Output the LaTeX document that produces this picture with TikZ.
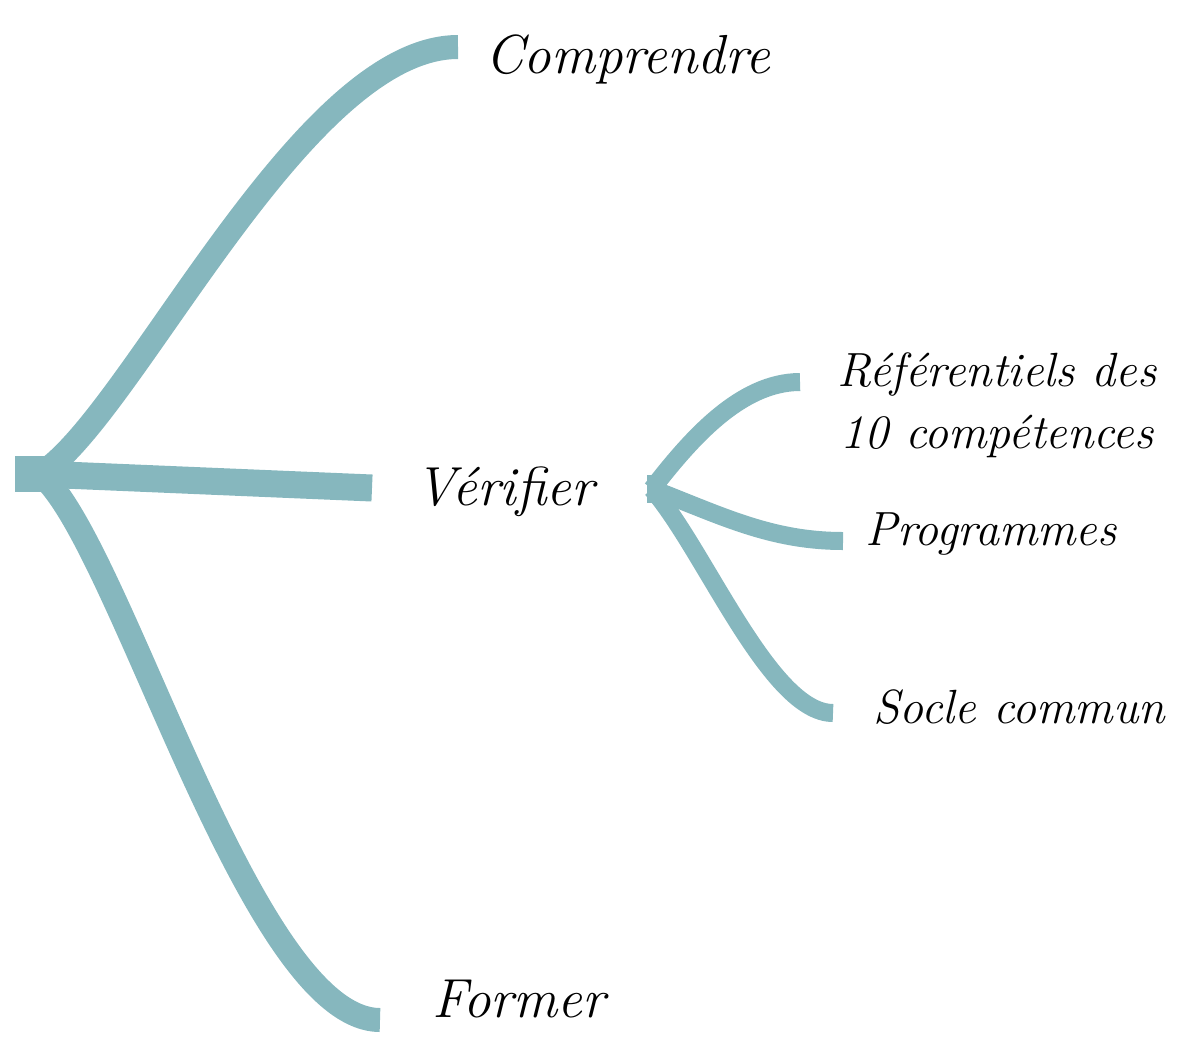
\documentclass[tikz,border=0pt]{standalone}
\usepackage{fontspec}
\usepackage{xcolor}
\definecolor{branch}{RGB}{134,183,190}
\tikzset{
  mainbranch/.style={draw=branch, line width=24pt},
  subbranch/.style={draw=branch, line width=18pt},
  topic/.style={anchor=base west, inner sep=0pt, font=\fontsize{55}{62}\selectfont\itshape},
  subtopic/.style={inner sep=0pt, font=\fontsize{48}{62}\selectfont\itshape}
}

\begin{document}
\begin{tikzpicture}[x=1pt,y=-1pt]
    \useasboundingbox (0,0) rectangle (1180,1036);

    % Central stub and branch points
    \fill[branch] (15,456) rectangle (45,492);
    \coordinate (root) at (40,474);
    \coordinate (compEnd) at (458,47);
    \coordinate (verEnd) at (372,488);
    \coordinate (formEnd) at (380,1020);

    % Main branches
    \draw[mainbranch] (root) .. controls (130,420) and (300,47) .. (compEnd);
    \draw[mainbranch, line width=27pt] (root) -- (verEnd);
    \draw[mainbranch] (root) .. controls (120,540) and (250,1020) .. (formEnd);

    % Sub branches of Verifier
    \fill[branch] (647,475) rectangle (657,503);
    \coordinate (sub) at (652,489);
    \coordinate (refEnd) at (800,382);
    \coordinate (progEnd) at (843,541);
    \coordinate (socEnd) at (833,713);
    \draw[subbranch] (sub) .. controls (690,440) and (740,382) .. (refEnd);
    \draw[subbranch] (sub) .. controls (720,515) and (770,541) .. (progEnd);
    \draw[subbranch] (sub) .. controls (705,550) and (770,713) .. (socEnd);

    % Labels
    \node[topic] (comp) at (485,73) {Comprendre};
    \node[topic] (verif) at (415,505) {Vérifier};
    \node[topic] (former) at (432,1017) {Former};
    \node[subtopic, align=center] (refer) at (997,405) {Référentiels des\\10 compétences};
    \node[subtopic, anchor=base west] (prog) at (865,545) {Programmes};
    \node[subtopic, anchor=base west] (socle) at (873,723) {Socle commun};

\end{tikzpicture}
\end{document}
